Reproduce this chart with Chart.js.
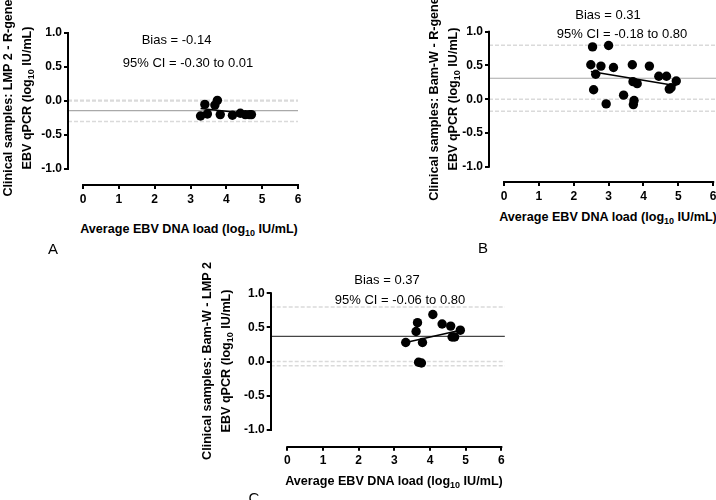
<!DOCTYPE html>
<html><head><meta charset="utf-8">
<script src="https://cdn.jsdelivr.net/npm/chart.js@4.4.0/dist/chart.umd.min.js"></script>
<style>
html,body{margin:0;padding:0;width:716px;height:500px;overflow:hidden;background:#fff;font-family:'Liberation Sans',Arial,sans-serif;}
.cv{position:absolute;}
.t{position:absolute;white-space:nowrap;transform:translate(-50%,-50%);color:#000;}
.ann{font-size:13px;}
.xt{font-size:12.6px;font-weight:bold;}
.yt{font-size:12.6px;font-weight:bold;text-align:center;line-height:19px;transform:translate(-50%,-50%) rotate(-90deg);}
.lab{font-size:15px;}
sub{font-size:9px;vertical-align:-3px;line-height:0;}
</style></head><body>
<canvas id="cA" class="cv"></canvas>
<canvas id="cB" class="cv"></canvas>
<canvas id="cC" class="cv"></canvas>

<div class="t ann" style="left:176.5px;top:38.5px">Bias = -0.14</div>
<div class="t ann" style="left:188px;top:62px">95% CI = -0.30 to 0.01</div>
<div class="t xt" style="left:189px;top:229px">Average EBV DNA load (log<sub>10</sub> IU/mL)</div>
<div class="t yt" style="left:18px;top:98px">Clinical samples: LMP 2 - R-gene<br>EBV qPCR (log<sub>10</sub> IU/mL)</div>
<div class="t lab" style="left:53px;top:248px">A</div>

<div class="t ann" style="left:608px;top:14px">Bias = 0.31</div>
<div class="t ann" style="left:622px;top:33px">95% CI = -0.18 to 0.80</div>
<div class="t xt" style="left:608px;top:217px">Average EBV DNA load (log<sub>10</sub> IU/mL)</div>
<div class="t yt" style="left:444px;top:99px">Clinical samples: Bam-W - R-gene<br>EBV qPCR (log<sub>10</sub> IU/mL)</div>
<div class="t lab" style="left:483px;top:247px">B</div>

<div class="t ann" style="left:387px;top:279px">Bias = 0.37</div>
<div class="t ann" style="left:400px;top:298.5px">95% CI = -0.06 to 0.80</div>
<div class="t xt" style="left:394px;top:481px">Average EBV DNA load (log<sub>10</sub> IU/mL)</div>
<div class="t yt" style="left:216.5px;top:361px">Clinical samples: Bam-W - LMP 2<br>EBV qPCR (log<sub>10</sub> IU/mL)</div>
<div class="t lab" style="left:254px;top:497px">C</div>

<script>
// ---- tick labels ----
const ticksY = [-1.0, -0.5, 0.0, 0.5, 1.0];
const ticksX = [0, 1, 2, 3, 4, 5, 6];

// ---- Panel A: LMP 2 - R-gene ----
const aX = [3.28, 3.40, 3.47, 3.68, 3.75, 3.83, 4.17, 4.39, 4.53, 4.64, 4.70];
const aY = [-0.22, -0.05, -0.19, -0.06, 0.01, -0.20, -0.21, -0.18, -0.20, -0.20, -0.20];
const aBias = -0.14, aLower = -0.30, aUpper = 0.01;
const aFitX = [3.28, 4.72];
const aFitY = [-0.11, -0.19];

// ---- Panel B: Bam-W - R-gene ----
const bX = [2.49, 2.54, 2.57, 2.63, 2.78, 2.93, 3.00, 3.14, 3.43, 3.68, 3.70, 3.71, 3.73, 3.82, 4.17, 4.44, 4.66, 4.74, 4.79, 4.94];
const bY = [0.51, 0.775, 0.14, 0.37, 0.49, -0.07, 0.795, 0.47, 0.06, 0.51, 0.26, -0.08, -0.02, 0.23, 0.49, 0.34, 0.34, 0.15, 0.17, 0.27];
const bBias = 0.31, bLower = -0.18, bUpper = 0.80;
const bFitX = [2.49, 4.94];
const bFitY = [0.41, 0.20];

// ---- Panel C: Bam-W - LMP 2 ----
const cX = [3.32, 3.61, 3.65, 3.68, 3.76, 3.79, 4.08, 4.34, 4.58, 4.62, 4.69, 4.85];
const cY = [0.28, 0.44, 0.57, -0.01, -0.02, 0.28, 0.69, 0.55, 0.52, 0.36, 0.36, 0.46];
const cBias = 0.37, cLower = -0.06, cUpper = 0.80;
const cFitX = [3.32, 4.85];
const cFitY = [0.28, 0.46];

const FONT = "'Liberation Sans', Arial, sans-serif";

const prismAxes = {
  id: 'prismAxes',
  afterDraw(chart) {
    const {ctx, chartArea, scales} = chart;
    const x = scales.x, y = scales.y;
    ctx.save();
    ctx.strokeStyle = '#000';
    ctx.lineWidth = 2;
    ctx.beginPath();
    const ax = Math.round(chartArea.left);
    ctx.moveTo(ax, y.getPixelForValue(ticksY[ticksY.length - 1]) - 1);
    ctx.lineTo(ax, y.getPixelForValue(ticksY[0]) + 1);
    const ay = Math.round(chartArea.bottom);
    ctx.moveTo(x.getPixelForValue(ticksX[0]) - 1, ay);
    ctx.lineTo(x.getPixelForValue(ticksX[ticksX.length - 1]) + 1, ay);
    ctx.stroke();
    ctx.restore();
  }
};

function hline(v, g, color, width, dash) {
  return {
    type: 'line',
    data: [{x: g.xMin, y: v}, {x: g.xMax, y: v}],
    borderColor: color, borderWidth: width, borderDash: dash || [],
    pointRadius: 0, fill: false, showLine: true
  };
}

function makePanel(id, g, xs, ys, fitX, fitY, bias, lower, upper, biasColor, biasWidth) {
  const cv = document.getElementById(id);
  cv.width = g.w; cv.height = g.h;
  cv.style.left = g.left + 'px'; cv.style.top = g.top + 'px';
  cv.style.width = g.w + 'px'; cv.style.height = g.h + 'px';
  const dotted = '#dadada';
  new Chart(cv, {
    type: 'scatter',
    data: {
      datasets: [
        {
          data: xs.map((x, i) => ({x: x, y: ys[i]})),
          backgroundColor: '#000', borderColor: '#000', borderWidth: 0,
          pointRadius: 4.7, showLine: false
        },
        {
          type: 'line',
          data: fitX.map((x, i) => ({x: x, y: fitY[i]})),
          borderColor: '#000', borderWidth: 1.6, pointRadius: 0, fill: false
        },
        hline(bias, g, biasColor, biasWidth),
        hline(upper, g, dotted, 1.5, [4, 2]),
        hline(lower, g, dotted, 1.5, [4, 2]),
        hline(0, g, dotted, 1.5, [4, 2])
      ]
    },
    options: {
      responsive: false, animation: false, devicePixelRatio: 1,
      layout: {padding: {top: g.padTop, right: g.padRight, left: 0, bottom: 0}},
      plugins: {legend: {display: false}, tooltip: {enabled: false}},
      scales: {
        x: {
          type: 'linear', min: g.xMin, max: g.xMax,
          afterBuildTicks: s => { s.ticks = ticksX.map(v => ({value: v})); },
          afterFit: s => { s.height = g.xH; },
          ticks: {font: {family: FONT, size: 12, weight: 'bold'}, color: '#000', padding: 3,
                  maxRotation: 0, autoSkip: false, callback: v => String(v)},
          grid: {drawOnChartArea: false, drawTicks: true, tickLength: 4, color: '#000', lineWidth: 2},
          border: {display: false}
        },
        y: {
          type: 'linear', min: g.yMin, max: g.yMax,
          afterBuildTicks: s => { s.ticks = ticksY.map(v => ({value: v})); },
          afterFit: s => { s.width = g.yW; },
          ticks: {font: {family: FONT, size: 12, weight: 'bold'}, color: '#000', padding: 2,
                  autoSkip: false, callback: v => Number(v).toFixed(1)},
          grid: {drawOnChartArea: false, drawTicks: true, tickLength: 4, color: '#000', lineWidth: 2},
          border: {display: false}
        }
      }
    },
    plugins: [prismAxes]
  });
}

makePanel('cA', {left: 0, top: 0, w: 312, h: 215, yW: 68, xH: 30, padTop: 33, padRight: 14,
                 xMin: -0.42, xMax: 6.0, yMin: -1.235, yMax: 1.0},
          aX, aY, aFitX, aFitY, aBias, aLower, aUpper, '#a9a9a9', 1.2);
makePanel('cB', {left: 380, top: 0, w: 346, h: 210, yW: 109, xH: 28, padTop: 31.7, padRight: 10,
                 xMin: -0.43, xMax: 6.08, yMin: -1.227, yMax: 1.0},
          bX, bY, bFitX, bFitY, bBias, bLower, bUpper, '#a9a9a9', 1.2);
makePanel('cC', {left: 200, top: 260, w: 320, h: 215, yW: 70.7, xH: 28.3, padTop: 33.3, padRight: 15.1,
                 xMin: -0.465, xMax: 6.1, yMin: -1.246, yMax: 1.0},
          cX, cY, cFitX, cFitY, cBias, cLower, cUpper, '#454545', 1.4);
</script>
</body></html>
